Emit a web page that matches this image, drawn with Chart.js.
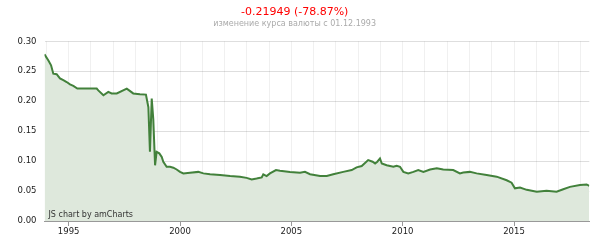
<!DOCTYPE html>
<html>
<head>
<meta charset="utf-8">
<script src="https://cdn.jsdelivr.net/npm/chart.js@4"></script>
<style>
    html, body { margin: 0; padding: 0; background: #fff; }
    #wrap { width: 600px; height: 242px; }
</style>
</head>
<body>
<div id="wrap"><canvas id="rateChart"></canvas></div>
<script>
// Exchange rate since 01.12.1993 (decimal years)
const years = [
    1993.915, 1994.09, 1994.21, 1994.31, 1994.46, 1994.61, 1994.76, 1994.91, 1995.06, 1995.21,
    1995.39, 1996.26, 1996.33, 1996.56, 1996.78, 1996.93, 1997.16, 1997.61, 1997.90, 1998.20,
    1998.47, 1998.58, 1998.65, 1998.73, 1998.80, 1998.88, 1998.95, 1999.07, 1999.18, 1999.25,
    1999.40, 1999.55, 1999.70, 1999.85, 2000.00, 2000.15, 2000.45, 2000.82, 2001.05, 2001.35,
    2001.80, 2002.25, 2002.69, 2002.99, 2003.22, 2003.44, 2003.67, 2003.74, 2003.89, 2004.04,
    2004.31, 2004.49, 2004.94, 2005.39, 2005.61, 2005.84, 2006.29, 2006.59, 2006.88, 2007.33,
    2007.71, 2007.93, 2008.16, 2008.45, 2008.65, 2008.76, 2008.86, 2008.98, 2009.06, 2009.28,
    2009.58, 2009.73, 2009.88, 2010.03, 2010.25, 2010.48, 2010.70, 2010.93, 2011.23, 2011.53,
    2011.82, 2012.27, 2012.57, 2012.72, 2013.02, 2013.32, 2013.77, 2014.22, 2014.67, 2014.89,
    2015.04, 2015.27, 2015.57, 2016.02, 2016.46, 2016.91, 2017.21, 2017.51, 2017.96, 2018.26,
    2018.38
];
const rates = [
    0.2783, 0.268, 0.260, 0.246, 0.245, 0.238, 0.235, 0.232, 0.228, 0.2255,
    0.221, 0.221, 0.218, 0.210, 0.2155, 0.213, 0.213, 0.221, 0.213, 0.2117,
    0.211, 0.190, 0.1155, 0.2045, 0.170, 0.093, 0.1155, 0.113, 0.107, 0.099,
    0.0905, 0.0905, 0.089, 0.086, 0.082, 0.0795, 0.0805, 0.082, 0.0795, 0.078,
    0.0767, 0.075, 0.074, 0.072, 0.0695, 0.071, 0.0728, 0.078, 0.075, 0.0795,
    0.085, 0.084, 0.082, 0.0805, 0.082, 0.078, 0.075, 0.075, 0.078, 0.082,
    0.085, 0.0895, 0.0917, 0.1017, 0.099, 0.096, 0.099, 0.1045, 0.096, 0.093,
    0.0905, 0.092, 0.0905, 0.082, 0.0795, 0.082, 0.085, 0.082, 0.086, 0.088,
    0.086, 0.085, 0.0795, 0.081, 0.082, 0.0795, 0.0767, 0.074, 0.068, 0.064,
    0.0545, 0.056, 0.052, 0.049, 0.0505, 0.049, 0.053, 0.057, 0.060, 0.061,
    0.0588
];
const labeledYears = [1995, 2000, 2005, 2010, 2015];
const yTicks = [0, 0.05, 0.10, 0.15, 0.20, 0.25, 0.30];

const titleText = '-0.21949 (-78.87%)';
const subtitleText = 'изменение курса валюты с 01.12.1993';
const creditText = 'JS chart by amCharts';

const FONT = "'DejaVu Sans', Verdana, sans-serif";

// small credit label in the bottom-left of the plot
const creditPlugin = {
    id: 'credit',
    afterDatasetsDraw(chart) {
        const ctx = chart.ctx;
        const area = chart.chartArea;
        ctx.save();
        ctx.font = '8px ' + FONT;
        ctx.fillStyle = '#333';
        ctx.textBaseline = 'middle';
        ctx.fillText(creditText, area.left + 4, area.bottom - 6.5);
        ctx.restore();
    }
};

const ctx = document.getElementById('rateChart').getContext('2d');
new Chart(ctx, {
    type: 'line',
    data: {
        datasets: [{
            data: years.map((y, i) => ({ x: y, y: rates[i] })),
            borderColor: '#42813b',
            borderWidth: 2,
            backgroundColor: '#dee8dc',
            fill: 'origin',
            pointRadius: 0,
            tension: 0
        }]
    },
    options: {
        responsive: true,
        maintainAspectRatio: false,
        animation: false,
        layout: {
            padding: { left: 0, right: 10.7, top: 0, bottom: 0 }
        },
        scales: {
            x: {
                type: 'linear',
                min: 1993.915,
                max: 2018.38,
                afterBuildTicks: function(scale) {
                    const ticks = [];
                    for (let y = 1994; y <= 2018; y++) ticks.push({ value: y });
                    scale.ticks = ticks;
                },
                afterFit: function(scale) {
                    scale.height = 21;
                },
                ticks: {
                    autoSkip: false,
                    maxRotation: 0,
                    padding: 1,
                    color: '#222',
                    font: { family: FONT, size: 8.5 },
                    callback: function(value) {
                        return labeledYears.includes(value) ? String(value) : '';
                    }
                },
                grid: {
                    color: 'rgba(0,0,0,0.06)',
                    tickLength: 5,
                    tickColor: function(c) {
                        return c.tick && labeledYears.includes(c.tick.value) ? '#999' : 'rgba(0,0,0,0)';
                    }
                },
                border: { display: true, color: '#999', width: 1 }
            },
            y: {
                min: 0,
                max: 0.3,
                afterBuildTicks: function(scale) {
                    scale.ticks = yTicks.map(v => ({ value: v }));
                },
                afterFit: function(scale) {
                    scale.width = 44.5;
                },
                ticks: {
                    padding: 8,
                    color: '#222',
                    font: { family: FONT, size: 8.5 },
                    callback: function(value) {
                        return value.toFixed(2);
                    }
                },
                grid: {
                    color: 'rgba(0,0,0,0.13)',
                    drawTicks: false
                },
                border: { display: false }
            }
        },
        plugins: {
            legend: { display: false },
            tooltip: { enabled: false },
            title: {
                display: true,
                text: titleText,
                color: '#ff0000',
                font: { family: FONT, size: 11, weight: 'normal' },
                padding: { top: 6, bottom: 0 }
            },
            subtitle: {
                display: true,
                text: subtitleText,
                color: '#aaa',
                font: { family: FONT, size: 8, weight: 'normal' },
                padding: { top: 0, bottom: 12.5 }
            }
        }
    },
    plugins: [creditPlugin]
});
</script>
</body>
</html>
